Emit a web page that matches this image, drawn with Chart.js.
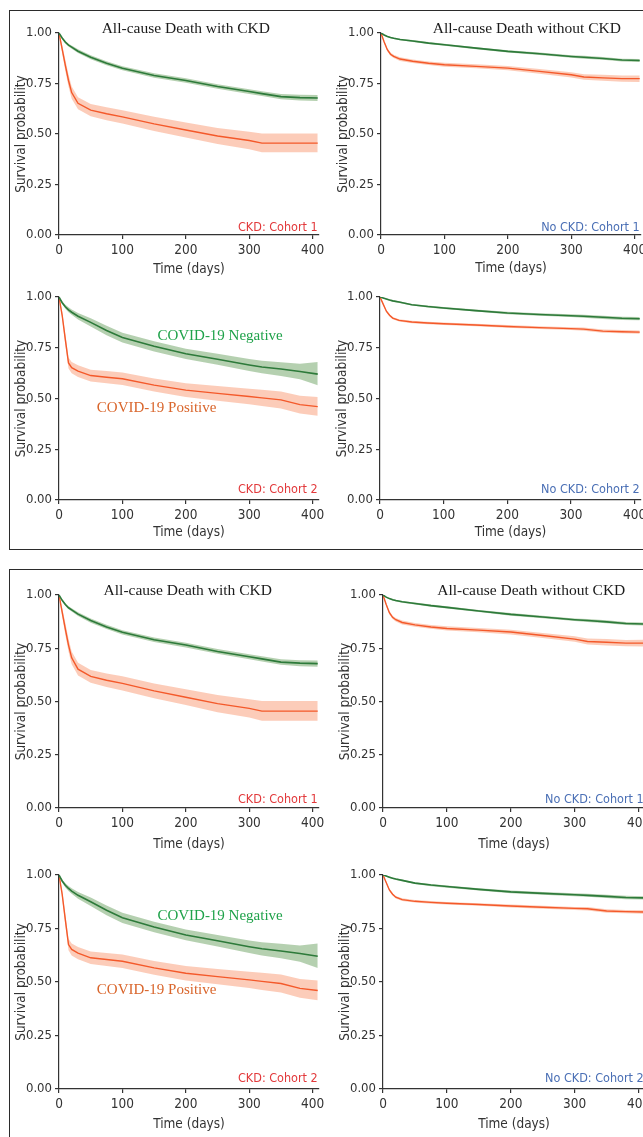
<!DOCTYPE html>
<html>
<head>
<meta charset="utf-8">
<script src="https://cdn.jsdelivr.net/npm/chart.js@4.4.1/dist/chart.umd.min.js"></script>
<style>
html, body { margin: 0; padding: 0; background: #fff; width: 643px; height: 1137px; overflow: hidden; position: relative; }
.frame { position: absolute; border: 1.5px solid #2b2b2b; box-sizing: border-box; }
canvas { position: absolute; }
</style>
</head>
<body>
<div class="frame" style="left:9px;top:10px;width:700px;height:540px"></div>
<div class="frame" style="left:9px;top:569px;width:700px;height:640px"></div>
<script>
"use strict";

// --- data (survival probability vs. time in days) ---
const DAYS    = [0, 5, 10, 15, 20, 30, 50, 75, 100, 150, 200, 250, 300, 320, 350, 380, 408];
const X_TICKS = [0, 100, 200, 300, 400];
const Y_TICKS = [0, 0.25, 0.5, 0.75, 1];

// CKD: Cohort 1
const ckd1Neg   = [1.00, 0.975, 0.955, 0.940, 0.930, 0.910, 0.880, 0.850, 0.825, 0.790, 0.765, 0.735, 0.710, 0.700, 0.685, 0.680, 0.678];
const ckd1NegLo = [1.00, 0.970, 0.949, 0.933, 0.922, 0.901, 0.870, 0.840, 0.815, 0.779, 0.754, 0.724, 0.698, 0.688, 0.672, 0.666, 0.663];
const ckd1NegHi = [1.00, 0.980, 0.961, 0.947, 0.938, 0.919, 0.890, 0.860, 0.835, 0.801, 0.776, 0.746, 0.722, 0.712, 0.698, 0.694, 0.693];
const ckd1Pos   = [1.00, 0.920, 0.840, 0.765, 0.705, 0.652, 0.618, 0.600, 0.585, 0.550, 0.520, 0.490, 0.468, 0.455, 0.455, 0.455, 0.455];
const ckd1PosLo = [1.00, 0.900, 0.812, 0.735, 0.675, 0.622, 0.588, 0.568, 0.552, 0.515, 0.483, 0.450, 0.425, 0.410, 0.410, 0.410, 0.410];
const ckd1PosHi = [1.00, 0.940, 0.868, 0.795, 0.735, 0.682, 0.648, 0.632, 0.618, 0.585, 0.557, 0.530, 0.511, 0.502, 0.502, 0.502, 0.502];

// No CKD: Cohort 1
const noCkd1Neg   = [1.00, 0.990, 0.983, 0.978, 0.974, 0.968, 0.960, 0.950, 0.942, 0.925, 0.909, 0.897, 0.884, 0.880, 0.874, 0.866, 0.864];
const noCkd1NegLo = [1.00, 0.987, 0.980, 0.974, 0.970, 0.964, 0.955, 0.945, 0.937, 0.920, 0.903, 0.891, 0.878, 0.873, 0.867, 0.859, 0.857];
const noCkd1NegHi = [1.00, 0.993, 0.986, 0.982, 0.978, 0.972, 0.965, 0.955, 0.947, 0.930, 0.915, 0.903, 0.890, 0.887, 0.881, 0.873, 0.871];
const noCkd1Pos   = [1.00, 0.955, 0.917, 0.895, 0.884, 0.871, 0.860, 0.850, 0.843, 0.835, 0.826, 0.810, 0.793, 0.782, 0.778, 0.774, 0.774];
const noCkd1PosLo = [1.00, 0.948, 0.909, 0.887, 0.876, 0.862, 0.851, 0.841, 0.833, 0.825, 0.815, 0.798, 0.780, 0.768, 0.763, 0.759, 0.758];
const noCkd1PosHi = [1.00, 0.962, 0.925, 0.903, 0.892, 0.880, 0.869, 0.859, 0.853, 0.845, 0.837, 0.822, 0.806, 0.796, 0.793, 0.789, 0.790];

// CKD: Cohort 2
const ckd2Neg   = [1.00, 0.972, 0.952, 0.937, 0.925, 0.905, 0.875, 0.835, 0.800, 0.757, 0.720, 0.693, 0.665, 0.655, 0.645, 0.633, 0.620];
const ckd2NegLo = [1.00, 0.965, 0.942, 0.925, 0.912, 0.889, 0.855, 0.812, 0.776, 0.732, 0.695, 0.666, 0.636, 0.624, 0.611, 0.595, 0.565];
const ckd2NegHi = [1.00, 0.979, 0.962, 0.949, 0.938, 0.921, 0.895, 0.858, 0.824, 0.782, 0.745, 0.720, 0.694, 0.686, 0.679, 0.671, 0.680];
const ckd2Pos   = [1.00, 0.910, 0.790, 0.675, 0.652, 0.635, 0.613, 0.605, 0.597, 0.566, 0.541, 0.525, 0.510, 0.503, 0.493, 0.470, 0.460];
const ckd2PosLo = [1.00, 0.890, 0.765, 0.648, 0.624, 0.606, 0.584, 0.575, 0.566, 0.534, 0.507, 0.489, 0.472, 0.463, 0.451, 0.426, 0.415];
const ckd2PosHi = [1.00, 0.930, 0.815, 0.702, 0.680, 0.664, 0.642, 0.635, 0.628, 0.598, 0.575, 0.561, 0.548, 0.543, 0.535, 0.514, 0.507];

// No CKD: Cohort 2
const noCkd2Neg   = [1.00, 0.995, 0.990, 0.985, 0.981, 0.975, 0.962, 0.953, 0.946, 0.933, 0.921, 0.914, 0.908, 0.905, 0.900, 0.895, 0.893];
const noCkd2NegLo = [1.00, 0.992, 0.987, 0.981, 0.977, 0.971, 0.958, 0.948, 0.941, 0.928, 0.915, 0.908, 0.901, 0.898, 0.892, 0.887, 0.885];
const noCkd2NegHi = [1.00, 0.998, 0.993, 0.989, 0.985, 0.979, 0.966, 0.958, 0.951, 0.938, 0.927, 0.920, 0.915, 0.912, 0.908, 0.903, 0.901];
const noCkd2Pos   = [1.00, 0.965, 0.930, 0.910, 0.896, 0.885, 0.877, 0.872, 0.868, 0.862, 0.855, 0.849, 0.844, 0.842, 0.832, 0.829, 0.827];
const noCkd2PosLo = [1.00, 0.960, 0.924, 0.904, 0.890, 0.879, 0.871, 0.866, 0.862, 0.856, 0.848, 0.842, 0.837, 0.834, 0.824, 0.821, 0.819];
const noCkd2PosHi = [1.00, 0.970, 0.936, 0.916, 0.902, 0.891, 0.883, 0.878, 0.874, 0.868, 0.862, 0.856, 0.851, 0.850, 0.840, 0.837, 0.835];

// --- styles ---
const GREEN_LINE  = '#2d7a3a';
const GREEN_BAND  = 'rgba(90, 150, 80, 0.45)';
const ORANGE_LINE = '#f4592a';
const ORANGE_BAND = 'rgba(248, 120, 70, 0.38)';
const AXIS_COLOR  = '#333';
const SANS = '"DejaVu Sans Condensed", "Liberation Sans Narrow", sans-serif';
const SERIF = '"Liberation Serif", "Times New Roman", serif';
const TITLE_FONT = '15.5px ' + SERIF;
const LABEL_FONT = '15px ' + SERIF;
const TAG_FONT = '12.5px ' + SANS;
const CKD_TAG = '#e2393b';
const NOCKD_TAG = '#4a6fb5';

const COHORTS = {
    ckd1:   [ckd1Neg, ckd1NegLo, ckd1NegHi, ckd1Pos, ckd1PosLo, ckd1PosHi],
    noCkd1: [noCkd1Neg, noCkd1NegLo, noCkd1NegHi, noCkd1Pos, noCkd1PosLo, noCkd1PosHi],
    ckd2:   [ckd2Neg, ckd2NegLo, ckd2NegHi, ckd2Pos, ckd2PosLo, ckd2PosHi],
    noCkd2: [noCkd2Neg, noCkd2NegLo, noCkd2NegHi, noCkd2Pos, noCkd2PosLo, noCkd2PosHi]
};

// texts placed in data coordinates of each panel
const panelText = {
    id: 'panelText',
    afterDraw(chart, args, opts) {
        const { ctx, scales: { x, y } } = chart;
        (opts.items || []).forEach(it => {
            ctx.save();
            ctx.font = it.font;
            ctx.fillStyle = it.color;
            ctx.textAlign = it.align || 'center';
            ctx.textBaseline = 'middle';
            ctx.fillText(it.text, x.getPixelForValue(it.x), y.getPixelForValue(it.y));
            ctx.restore();
        });
    }
};

function titleItem(text, x) {
    return { text, x, y: 1.02, font: TITLE_FONT, color: '#1a1a1a' };
}
function tagItem(text, color, y) {
    return { text, x: 408, y, font: TAG_FONT, color, align: 'right' };
}
function covidItems(yNeg, yPos) {
    return [
        { text: 'COVID-19 Negative', x: 254, y: yNeg, font: LABEL_FONT, color: '#1fa24a' },
        { text: 'COVID-19 Positive', x: 154, y: yPos, font: LABEL_FONT, color: '#d9652b' }
    ];
}

// pixel geometry of every panel: x0 = day 0, x400 = day 400, y1 = prob 1.00, y0 = prob 0.00
const PANELS = [
    { set: 'ckd1',   x0: 59,  x400: 313, y1: 33,  y0: 235,  xH: 44, items: [titleItem('All-cause Death with CKD', 200), tagItem('CKD: Cohort 1', CKD_TAG, 0.036)] },
    { set: 'noCkd1', x0: 381, x400: 635, y1: 33,  y0: 235,  xH: 43, items: [titleItem('All-cause Death without CKD', 230), tagItem('No CKD: Cohort 1', NOCKD_TAG, 0.036)] },
    { set: 'ckd2',   x0: 59,  x400: 313, y1: 297, y0: 500,  xH: 42, items: [...covidItems(0.808, 0.453), tagItem('CKD: Cohort 2', CKD_TAG, 0.049)] },
    { set: 'noCkd2', x0: 380, x400: 635, y1: 297, y0: 500,  xH: 42, items: [tagItem('No CKD: Cohort 2', NOCKD_TAG, 0.049)] },
    { set: 'ckd1',   x0: 59,  x400: 313, y1: 595, y0: 808,  xH: 46, items: [titleItem('All-cause Death with CKD', 203), tagItem('CKD: Cohort 1', CKD_TAG, 0.037)] },
    { set: 'noCkd1', x0: 383, x400: 639, y1: 595, y0: 808,  xH: 46, items: [titleItem('All-cause Death without CKD', 232), tagItem('No CKD: Cohort 1', NOCKD_TAG, 0.037)] },
    { set: 'ckd2',   x0: 59,  x400: 313, y1: 875, y0: 1089, xH: 45, items: [...covidItems(0.809, 0.463), tagItem('CKD: Cohort 2', CKD_TAG, 0.046)] },
    { set: 'noCkd2', x0: 383, x400: 639, y1: 875, y0: 1089, xH: 45, items: [tagItem('No CKD: Cohort 2', NOCKD_TAG, 0.046)] }
];

const X_MAX = 410;
const Y_AXIS_W = 52;
const PAD_TOP = 30;
const PAD_RIGHT = 16;

function pts(arr) {
    return DAYS.map((d, i) => ({ x: d, y: arr[i] }));
}

function drawPanel(p) {
    const [neg, negLo, negHi, pos, posLo, posHi] = COHORTS[p.set];
    const chartW = (p.x400 - p.x0) * X_MAX / 400;
    const chartH = p.y0 - p.y1;

    const cv = document.createElement('canvas');
    cv.width = Math.round(Y_AXIS_W + chartW + PAD_RIGHT);
    cv.height = Math.round(PAD_TOP + chartH + p.xH);
    cv.style.left = (p.x0 - Y_AXIS_W) + 'px';
    cv.style.top = (p.y1 - PAD_TOP) + 'px';
    document.body.appendChild(cv);

    const line = (data, color, width) => ({
        data: pts(data), borderColor: color, borderWidth: width, pointRadius: 0, fill: false, order: 0
    });
    const band = (data, color, fill) => ({
        data: pts(data), borderWidth: 0, borderColor: 'transparent', backgroundColor: color, pointRadius: 0, fill, order: 1
    });

    new Chart(cv, {
        type: 'line',
        data: {
            datasets: [
                line(neg, GREEN_LINE, 1.6),
                line(pos, ORANGE_LINE, 1.4),
                band(negHi, GREEN_BAND, '+1'),
                band(negLo, GREEN_BAND, false),
                band(posHi, ORANGE_BAND, '+1'),
                band(posLo, ORANGE_BAND, false)
            ]
        },
        options: {
            responsive: false,
            animation: false,
            devicePixelRatio: 1,
            layout: { padding: { top: PAD_TOP, right: PAD_RIGHT, left: 0, bottom: 0 } },
            plugins: {
                legend: { display: false },
                tooltip: { enabled: false },
                panelText: { items: p.items }
            },
            scales: {
                x: {
                    type: 'linear', min: 0, max: X_MAX,
                    afterBuildTicks: s => { s.ticks = X_TICKS.map(v => ({ value: v })); },
                    afterFit: s => { s.height = p.xH; },
                    ticks: { color: AXIS_COLOR, font: { family: SANS, size: 13.5 }, padding: 3, maxRotation: 0 },
                    grid: { drawOnChartArea: false, drawTicks: true, tickLength: 4, color: AXIS_COLOR, lineWidth: 1.2 },
                    border: { display: true, color: AXIS_COLOR, width: 1.2 },
                    title: { display: true, text: 'Time (days)', color: AXIS_COLOR, font: { family: SANS, size: 13.5 }, padding: { top: 0, bottom: 1 } }
                },
                y: {
                    type: 'linear', min: 0, max: 1,
                    afterBuildTicks: s => { s.ticks = Y_TICKS.map(v => ({ value: v })); },
                    afterFit: s => { s.width = Y_AXIS_W; },
                    ticks: { color: AXIS_COLOR, font: { family: SANS, size: 13 }, padding: 3, callback: v => v.toFixed(2) },
                    grid: { drawOnChartArea: false, drawTicks: true, tickLength: 4, color: AXIS_COLOR, lineWidth: 1.2 },
                    border: { display: true, color: AXIS_COLOR, width: 1.2 },
                    title: { display: true, text: 'Survival probability', color: AXIS_COLOR, font: { family: SANS, size: 13.5 }, padding: { top: 6, bottom: 0 } }
                }
            }
        },
        plugins: [panelText]
    });
}

PANELS.forEach(drawPanel);
</script>
</body>
</html>
